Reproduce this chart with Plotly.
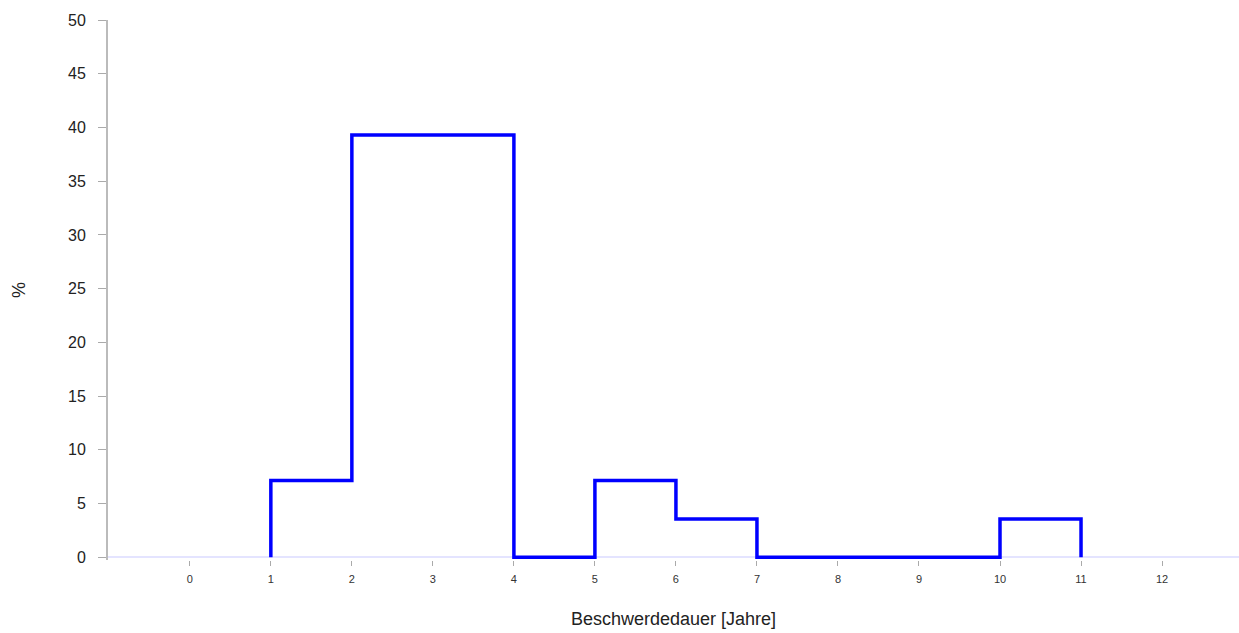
import plotly.graph_objects as go

# Histogram of complaint duration (28 cases), percent per one-year bin
bin_edges = [1, 2, 3, 4, 5, 6, 7, 8, 9, 10, 11]
percent = [7.14, 39.29, 39.29, 0.0, 7.14, 3.57, 0.0, 0.0, 0.0, 3.57]
x_ticks = list(range(0, 13))
y_ticks = list(range(0, 51, 5))

# step outline: rise at the first edge, one horizontal run per bin, drop at the last edge
step_x = [bin_edges[0]] + bin_edges[:-1] + [bin_edges[-1]]
step_y = [0] + percent + [0]

fig = go.Figure()
fig.add_trace(go.Scatter(
    x=step_x, y=step_y, mode="lines", line_shape="hv",
    line=dict(color="#0000ff", width=3.5), hoverinfo="skip", showlegend=False,
))

fig.update_layout(
    width=1239, height=633,
    margin=dict(l=108, r=0, t=20, b=73),
    paper_bgcolor="white", plot_bgcolor="white",
    font=dict(family="Liberation Sans, Arial, sans-serif", color="#222222"),
    xaxis=dict(
        range=[-1.01, 12.95], tickmode="array", tickvals=x_ticks,
        ticktext=[str(v) for v in x_ticks], tickfont=dict(size=11, color="#333333"),
        ticks="outside", ticklen=5, tickcolor="#aaaaaa", tickwidth=1,
        ticklabelstandoff=4,
        showline=False,
        showgrid=False, zeroline=False,
        title=dict(text="Beschwerdedauer [Jahre]", font=dict(size=18), standoff=28),
    ),
    yaxis=dict(
        # a sliver below zero keeps the zero-height runs at full line width
        range=[-0.25, 50], tickmode="array", tickvals=y_ticks,
        ticktext=[str(v) for v in y_ticks], tickfont=dict(size=16, color="#222222"),
        ticks="outside", ticklen=8, tickcolor="#aaaaaa", tickwidth=1,
        ticklabelstandoff=9,
        showline=True, linecolor="#bbbbbb", linewidth=2,
        showgrid=False, zeroline=True, zerolinecolor="#e4e4ff", zerolinewidth=2,
        title=dict(text="%", font=dict(size=18), standoff=38),
    ),
)

fig.write_html("out.html")
